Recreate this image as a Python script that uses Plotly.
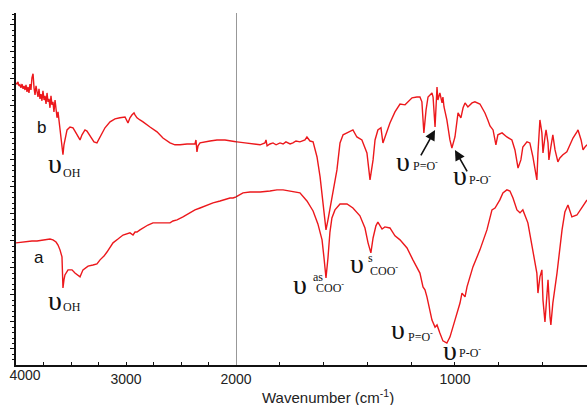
import plotly.graph_objects as go

# ---------------- data (wavenumber in cm-1, transmittance in arbitrary units) ----------------
wn_b = [4000, 3991, 3982, 3973, 3964, 3955, 3945, 3936, 3927, 3918, 3909, 3900, 3891, 3882, 3873, 3864,
        3855, 3845, 3836, 3827, 3818, 3809, 3800, 3791, 3782, 3773, 3764, 3755, 3745, 3736, 3727, 3718,
        3709, 3700, 3691, 3682, 3673, 3664, 3655, 3645, 3636, 3627, 3618, 3609, 3600, 3591, 3582, 3573,
        3564, 3555, 3536, 3509, 3482, 3464, 3436, 3418, 3400, 3373, 3355, 3327, 3291, 3264, 3236, 3191,
        3145, 3100, 3055, 3009, 2982, 2964, 2945, 2927, 2918, 2900, 2873, 2845, 2782, 2718, 2664, 2600,
        2555, 2509, 2445, 2391, 2373, 2364, 2355, 2345, 2327, 2236, 2173, 2100, 2027, 2000, 1995, 1959,
        1922, 1890, 1868, 1863, 1858, 1845, 1831, 1817, 1799, 1785, 1772, 1753, 1740, 1726, 1708, 1685,
        1676, 1662, 1648, 1630, 1616, 1603, 1589, 1580, 1562, 1539, 1525, 1511, 1493, 1479, 1466, 1448,
        1425, 1402, 1388, 1374, 1365, 1352, 1338, 1329, 1320, 1306, 1297, 1274, 1251, 1228, 1215, 1196,
        1174, 1160, 1151, 1146, 1142, 1132, 1123, 1105, 1100, 1091, 1087, 1082, 1078, 1069, 1059, 1055,
        1050, 1037, 1023, 1014, 1000, 991, 986, 973, 963, 954, 941, 922, 909, 886, 863, 850, 840, 826,
        813, 804, 785, 763, 740, 726, 712, 699, 690, 671, 658, 644, 635, 626, 621, 612, 603, 598, 589,
        584, 575, 571, 562, 553, 543, 530, 521, 507, 489, 475, 461, 443, 438, 424, 415, 406, 397]
t_b = [98.5, 98.1, 98.9, 97.4, 97.8, 96.7, 98.1, 96.3, 97.4, 95.9, 97.8, 95.2, 97.0, 94.8, 98.1, 95.9,
       100.4, 101.9, 96.7, 94.1, 97.4, 95.2, 93.3, 96.3, 92.6, 94.4, 91.9, 95.6, 92.2, 93.7, 90.7, 94.8,
       91.5, 92.6, 89.3, 93.7, 90.4, 91.5, 87.8, 92.2, 88.5, 85.6, 87.8, 84.1, 81.1, 77.4, 73.7, 71.9,
       75.6, 77.4, 81.1, 82.2, 81.9, 80.7, 78.5, 77.4, 79.3, 81.1, 80.7, 78.9, 76.7, 76.3, 78.5, 81.9,
       84.1, 85.2, 85.6, 85.9, 83.7, 85.6, 86.7, 87.4, 86.7, 85.6, 84.8, 84.1, 82.2, 80.4, 78.1, 76.3,
       75.6, 75.6, 75.9, 75.9, 75.9, 77.4, 73.0, 75.2, 76.3, 77.0, 77.4, 77.4, 77.0, 76.7, 76.7, 76.3,
       75.9, 75.6, 76.3, 77.4, 75.2, 75.9, 76.3, 75.6, 76.3, 75.9, 76.7, 75.9, 76.3, 77.0, 76.7, 77.4,
       78.5, 77.0, 76.7, 71.1, 63.7, 54.1, 44.1, 47.8, 56.3, 66.3, 76.3, 79.3, 80.0, 80.7, 81.1, 78.5,
       77.4, 72.6, 62.6, 70.0, 77.4, 81.1, 81.9, 76.3, 78.5, 81.9, 83.7, 87.8, 90.7, 90.4, 91.5, 93.0,
       93.3, 93.3, 91.5, 82.2, 80.0, 88.5, 93.3, 94.8, 93.3, 82.2, 89.6, 97.0, 92.2, 94.8, 91.1, 93.3,
       89.6, 84.8, 77.4, 74.4, 78.5, 84.8, 87.4, 85.6, 89.3, 91.1, 89.6, 91.1, 91.5, 90.7, 87.4, 84.8, 82.6, 81.1,
       75.6, 79.3, 80.0, 78.5, 77.4, 73.7, 67.0, 70.0, 74.8, 76.7, 76.3, 71.1, 66.3, 62.6, 72.6, 84.8, 80.0, 72.6, 78.5,
       81.1, 76.3, 70.0, 74.8, 79.3, 73.7, 69.3, 70.7, 71.9, 73.0, 75.6, 78.1, 80.4, 81.1, 77.4, 73.7, 74.8, 75.6]

wn_a = [4000, 3945, 3900, 3855, 3809, 3755, 3691, 3664, 3636, 3618, 3600, 3582, 3573, 3564, 3555, 3527,
        3491, 3464, 3445, 3418, 3391, 3345, 3300, 3264, 3236, 3200, 3173, 3145, 3118, 3073, 3027, 2964,
        2936, 2918, 2900, 2873, 2845, 2800, 2755, 2691, 2645, 2600, 2573, 2536, 2482, 2418, 2373, 2327,
        2264, 2209, 2145, 2082, 2055, 2027, 2000, 1982, 1968, 1936, 1890, 1845, 1813, 1785, 1753, 1731,
        1708, 1676, 1648, 1626, 1607, 1598, 1589, 1580, 1571, 1562, 1548, 1525, 1493, 1466, 1434, 1411,
        1397, 1384, 1374, 1361, 1352, 1333, 1320, 1297, 1274, 1251, 1219, 1192, 1160, 1146, 1137, 1128,
        1114, 1105, 1091, 1082, 1069, 1055, 1037, 1023, 1000, 977, 968, 954, 945, 918, 886, 854, 831,
        817, 795, 781, 763, 749, 735, 717, 703, 690, 667, 644, 626, 621, 612, 603, 598, 589, 580, 575,
        566, 562, 553, 534, 511, 498, 484, 466, 443, 420, 406, 397]
t_a = [39.3, 39.6, 39.6, 40.0, 40.0, 40.4, 40.7, 40.4, 39.6, 38.5, 36.7, 34.1, 22.6, 25.6, 27.4, 29.3,
       29.3, 28.1, 27.4, 26.7, 29.3, 30.7, 31.1, 31.5, 33.0, 34.4, 35.9, 37.8, 39.3, 40.7, 42.2, 43.0,
       42.2, 43.3, 43.3, 44.1, 44.8, 45.9, 46.7, 46.7, 46.7, 46.7, 47.4, 47.8, 48.9, 50.4, 51.5, 52.2,
       53.3, 54.1, 54.8, 55.6, 55.9, 55.9, 56.3, 57.0, 57.8, 58.1, 58.1, 58.5, 58.9, 58.9, 58.5, 58.1,
       57.8, 54.8, 51.1, 46.3, 40.4, 33.7, 26.3, 33.7, 43.3, 48.5, 51.5, 53.7, 53.7, 52.2, 49.3, 44.8,
       39.3, 35.6, 41.1, 45.6, 47.0, 44.4, 45.2, 44.8, 41.9, 40.4, 37.4, 33.0, 28.1, 23.0, 21.9, 19.3,
       14.4, 10.7, 8.1, 8.9, 5.9, 3.0, 2.2, 4.4, 10.7, 17.0, 20.7, 19.3, 23.0, 30.4, 36.7, 44.1, 51.5,
       52.2, 55.2, 57.8, 58.9, 58.5, 55.9, 51.5, 50.4, 51.5, 46.7, 35.6, 28.1, 20.7, 26.7, 29.3, 18.1, 10.0, 23.0, 25.6,
       11.9, 8.9, 17.0, 28.1, 44.1, 50.7, 53.3, 48.9, 49.6, 52.2, 54.1, 55.2]

left_ticks = [4000, 3750, 3500, 3250, 3000, 2750, 2500, 2250, 2000]
left_labels = ["", "", "", "", "3000", "", "", "", "2000"]
edge_ticks = [4000]
edge_labels = ["4000"]
right_ticks = [1800, 1600, 1400, 1200, 1000, 800, 600]
right_labels = ["", "", "", "", "1000", "", ""]

# ---------------- figure ----------------
RED = "rgb(236,24,28)"
SANS = "Liberation Sans, Arial, sans-serif"
SERIF = "Liberation Serif, Times New Roman, serif"
SPLIT = 220 / 571

fig = go.Figure()
for wn, t in ((wn_b, t_b), (wn_a, t_a)):
    lx = [w for w in wn if w >= 2000]
    ly = [v for w, v in zip(wn, t) if w >= 2000]
    rx = [w for w in wn if w <= 2000]
    ry = [v for w, v in zip(wn, t) if w <= 2000]
    fig.add_trace(go.Scatter(x=lx, y=ly, mode="lines", line=dict(color=RED, width=1.4),
                             xaxis="x", yaxis="y", showlegend=False, hoverinfo="skip"))
    fig.add_trace(go.Scatter(x=rx, y=ry, mode="lines", line=dict(color=RED, width=1.4),
                             xaxis="x2", yaxis="y", showlegend=False, hoverinfo="skip"))
# invisible carrier so the edge-label axis is drawn
fig.add_trace(go.Scatter(x=[4000], y=[None], mode="lines", xaxis="x3", yaxis="y",
                         showlegend=False, hoverinfo="skip"))

anns = []


def txt(xref, x, y, text, size, family=SERIF):
    anns.append(dict(xref=xref, yref="y", x=x, y=y, text=text, showarrow=False,
                     xanchor="center", yanchor="middle",
                     font=dict(family=family, size=size, color="#111")))


UPS = "\u03c5"
SUB = 12
BIG = 28
# curve labels
txt("x", 3764, 81.9, "b", 17, SANS)
txt("x", 3791, 33.7, "a", 17, SANS)
# OH bands
txt("x", 3645, 68.6, UPS, BIG)
txt("x", 3491, 65.2, "OH", SUB)
txt("x", 3645, 18.1, UPS, BIG)
txt("x", 3491, 15.6, "OH", SUB)
# carboxylate
txt("x2", 1708, 23.7, UPS, BIG)
txt("x2", 1626, 26.6, "as", SUB)
txt("x2", 1571, 22.6, "COO<sup>-</sup>", SUB)
txt("x2", 1448, 31.6, UPS, BIG)
txt("x2", 1384, 33.6, "s", SUB)
txt("x2", 1322, 28.9, "COO<sup>-</sup>", SUB)
# phosphonate (lower)
txt("x2", 1260, 7.2, UPS, BIG)
txt("x2", 1158, 4.8, "P=O<sup>-</sup>", SUB)
txt("x2", 1023, -0.4, UPS, BIG)
txt("x2", 930, -1.4, "P-O<sup>-</sup>", SUB)
# phosphonate (upper)
txt("x2", 1237, 69.6, UPS, BIG)
txt("x2", 1135, 68.0, "P=O<sup>-</sup>", SUB)
txt("x2", 977, 64.2, UPS, BIG)
txt("x2", 884, 62.6, "P-O<sup>-</sup>", SUB)

# arrows
for x, y, ax, ay in ((1091, 81.1, -15, 27), (1000, 73.7, 13, 23)):
    anns.append(dict(xref="x2", yref="y", x=x, y=y, ax=ax, ay=ay, text="", showarrow=True,
                     arrowhead=2, arrowsize=1.3, arrowwidth=1.6, arrowcolor="#111", standoff=0))

# axis title
anns.append(dict(xref="paper", yref="paper", x=(328 - 16) / 571, y=(365 - 396) / 352,
                 text="Wavenumber (cm<sup>-1</sup>)", showarrow=False, xanchor="center",
                 yanchor="middle", font=dict(family=SANS, size=15, color="#222")))

xaxis_common = dict(showline=True, linecolor="#111", linewidth=1.5, showgrid=False, zeroline=False,
                    ticks="inside", ticklen=3, tickcolor="#111", tickwidth=1,
                    tickfont=dict(family=SANS, size=14, color="#222"), tickmode="array",
                    automargin=False)

fig.update_layout(
    width=587, height=405, autosize=False,
    margin=dict(l=16, r=0, t=13, b=40, pad=0, autoexpand=False),
    paper_bgcolor="white", plot_bgcolor="white",
    xaxis=dict(domain=[0, SPLIT], range=[4000, 2000], tickvals=left_ticks, ticktext=left_labels,
               anchor="y", **xaxis_common),
    xaxis2=dict(domain=[SPLIT, 1], range=[2000, 397], tickvals=right_ticks, ticktext=right_labels,
                anchor="y", **xaxis_common),
    xaxis3=dict(domain=[0, SPLIT], range=[4000, 2000], overlaying="x", anchor="y", side="bottom",
                tickmode="array", tickvals=edge_ticks, ticktext=edge_labels, ticks="", showline=False,
                showgrid=False, zeroline=False, ticklabelshift=-9, ticklabeloverflow="allow",
                automargin=False, tickfont=dict(family=SANS, size=14, color="#222")),
    yaxis=dict(range=[-5.93, 124.4], showline=True, linecolor="#111", linewidth=1.5, showgrid=False,
               zeroline=False, showticklabels=False, ticks="outside", ticklen=4, tickcolor="#111",
               tick0=0, dtick=10, automargin=False,
               minor=dict(ticks="outside", ticklen=2, tickcolor="#111", tick0=0, dtick=2, showgrid=False)),
    annotations=anns,
    shapes=[dict(type="line", xref="x2", yref="paper", x0=2000, x1=2000, y0=0, y1=1,
                 line=dict(color="#333", width=1))],
)

fig.write_html("out.html", config={"displayModeBar": False, "responsive": False},
               post_script="document.body.style.margin='0';document.body.style.overflow='hidden';")
